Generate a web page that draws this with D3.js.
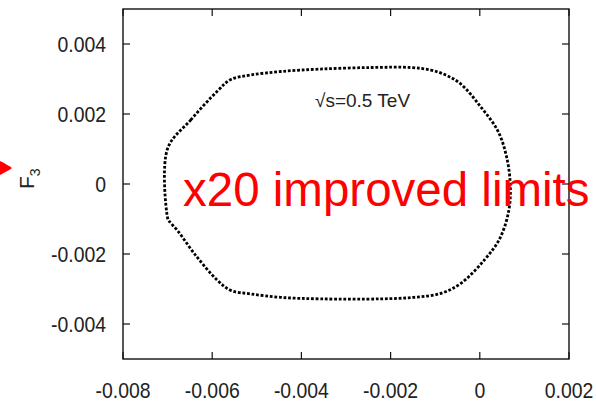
<!DOCTYPE html>
<html><head><meta charset="utf-8">
<script src="https://cdn.jsdelivr.net/npm/d3@7"></script>
<style>html,body{margin:0;padding:0;background:#fff;overflow:hidden}</style>
</head><body>
<svg id="chart" width="596" height="401"></svg>
<script>
// Data
const contourX = [-0.007002,-0.006480,-0.005881,-0.005583,-0.005135,-0.004462,-0.003565,-0.002444,-0.001547,-0.001099,-0.000762,-0.000426,0.000022,0.000404,0.000605,0.000684,0.000650,0.000448,0.000112,-0.000426,-0.000874,-0.001480,-0.002220,-0.003565,-0.004462,-0.005135,-0.005583,-0.005881,-0.006368,-0.006778,-0.006973,-0.007002];
const contourY = [0.001006,0.001832,0.002658,0.002986,0.003114,0.003214,0.003285,0.003328,0.003328,0.003256,0.003114,0.002858,0.002202,0.001519,0.000749,-0.000048,-0.000761,-0.001558,-0.002157,-0.002840,-0.003125,-0.003239,-0.003282,-0.003282,-0.003239,-0.003140,-0.003040,-0.002755,-0.002043,-0.001330,-0.001046,-0.000960];
const xTicks = [-0.008,-0.006,-0.004,-0.002,0,0.002];
const yTicks = [-0.004,-0.002,0,0.002,0.004];
const xTickLabels = ["-0.008","-0.006","-0.004","-0.002","0","0.002"];
const yTickLabels = ["-0.004","-0.002","0","0.002","0.004"];
const energyLabel = "\u221As=0.5 TeV";
const overlayText = "x20 improved limits";

const svg = d3.select("#chart");
const L=123, R=569, T=9, B=359;
const x = d3.scaleLinear().domain([-0.008,0.002]).range([L,R]);
const y = d3.scaleLinear().domain([-0.005,0.005]).range([B,T]);
const font = "'Liberation Sans', Arial, Helvetica, sans-serif";

// contour
const pts = contourX.map((v,i)=>[v,contourY[i]]);
const line = d3.line().x(d=>x(d[0])).y(d=>y(d[1])).curve(d3.curveCatmullRomClosed.alpha(0.5));
svg.append("path").attr("d", line(pts)).attr("fill","none").attr("stroke","#000")
  .attr("stroke-width",2.8).attr("stroke-dasharray","2.8,1.8");

// frame
svg.append("rect").attr("x",L).attr("y",T).attr("width",R-L).attr("height",B-T)
  .attr("fill","none").attr("stroke","#111").attr("stroke-width",1.4);

const tl = 7;
const ax = svg.append("g").attr("stroke","#111").attr("stroke-width",1.2);
xTicks.forEach(t=>{
  ax.append("line").attr("x1",x(t)).attr("x2",x(t)).attr("y1",B).attr("y2",B-tl);
  ax.append("line").attr("x1",x(t)).attr("x2",x(t)).attr("y1",T).attr("y2",T+tl);
});
yTicks.forEach(t=>{
  ax.append("line").attr("x1",L).attr("x2",L+tl).attr("y1",y(t)).attr("y2",y(t));
  ax.append("line").attr("x1",R).attr("x2",R-tl).attr("y1",y(t)).attr("y2",y(t));
});

// tick labels (slightly tall glyphs like the original)
svg.append("g").selectAll("text").data(xTicks).join("text")
  .attr("transform",d=>`translate(${x(d)},398) scale(0.97,1.1)`).attr("text-anchor","middle")
  .attr("font-family",font).attr("font-size",20).attr("fill","#222")
  .text((d,i)=>xTickLabels[i]);
svg.append("g").selectAll("text").data(yTicks).join("text")
  .attr("transform",d=>`translate(106,${y(d)+8}) scale(0.97,1.1)`).attr("text-anchor","end")
  .attr("font-family",font).attr("font-size",20).attr("fill","#222")
  .text((d,i)=>yTickLabels[i]);

// axis label F3
const yl = svg.append("text").attr("transform","translate(34,189) rotate(-90)")
  .attr("font-family",font).attr("font-size",21).attr("fill","#222");
yl.append("tspan").text("F");
yl.append("tspan").attr("font-size",14).attr("dy",6).text("3");

// energy label
svg.append("text").attr("x",315).attr("y",107).attr("font-family",font)
  .attr("font-size",19).attr("fill","#222").text(energyLabel);

// red arrow head
svg.append("path").attr("d","M-6,158 C2,162 8,165 12,168 C8,171 2,174 -6,178 Z").attr("fill","#ff0000");

// overlay text
svg.append("text").attr("x",183).attr("y",206).attr("font-family",font)
  .attr("font-size",47.5).attr("fill","#ff0000").text(overlayText);
</script>
</body></html>
